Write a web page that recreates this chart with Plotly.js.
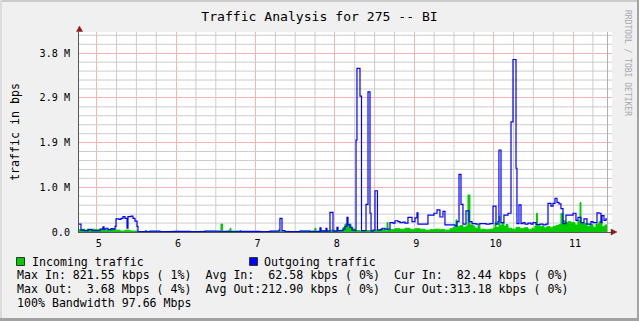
<!DOCTYPE html>
<html>
<head>
<meta charset="utf-8">
<script src="https://cdn.plot.ly/plotly-3.0.1.min.js"></script>
<style>
  html, body { margin: 0; padding: 0; background: #F0F0F0; }
  #wrap { position: relative; width: 639px; height: 321px; overflow: hidden; }
  #chart { position: absolute; left: 0; top: 0; width: 639px; height: 321px; }
  .edge { position: absolute; pointer-events: none; }
</style>
</head>
<body>
<div id="wrap">
  <div id="chart"></div>
  <div class="edge" style="left:0;top:0;width:639px;height:2px;background:#CBCBCB;"></div>
  <div class="edge" style="left:0;top:0;width:2px;height:321px;background:#DCDCDC;"></div>
  <div class="edge" style="left:0;top:318px;width:639px;height:3px;background:#A2A2A2;"></div>
  <div class="edge" style="left:637px;top:0;width:2px;height:321px;background:#A2A2A2;"></div>
</div>
<script>
// ---- data (time in hours, traffic in Mbit/s) ----
const outTime = [4.777,4.802,4.840,4.891,4.941,5.042,5.079,5.092,5.117,5.142,5.180,5.205,5.231,5.243,5.281,5.306,5.331,5.356,5.382,5.394,5.432,5.457,5.482,5.508,5.520,5.671,5.797,5.986,6.175,6.364,6.553,6.805,7.057,7.183,7.296,7.308,7.334,7.371,7.560,7.686,7.812,7.825,7.888,7.900,7.938,7.976,8.026,8.039,8.102,8.127,8.152,8.165,8.190,8.215,8.253,8.266,8.278,8.316,8.335,8.392,8.417,8.442,8.455,8.480,8.505,8.536,8.568,8.593,8.631,8.694,8.732,8.757,8.794,8.820,8.857,8.883,8.920,8.971,9.009,9.034,9.046,9.172,9.210,9.248,9.286,9.323,9.361,9.386,9.512,9.538,9.563,9.588,9.613,9.651,9.689,9.727,9.777,9.827,9.903,9.953,9.991,10.029,10.054,10.066,10.092,10.129,10.180,10.218,10.243,10.281,10.293,10.318,10.344,10.369,10.394,10.432,10.470,10.495,10.533,10.583,10.621,10.658,10.684,10.721,10.747,10.772,10.797,10.822,10.847,10.873,10.910,10.961,10.999,11.036,11.061,11.099,11.137,11.175,11.225,11.250,11.301,11.326,11.351,11.364,11.389,11.414,11.427];
const outValues = [0.17,0.04,0.03,0.05,0.03,0.06,0.11,0.06,0.08,0.05,0.07,0.06,0.12,0.28,0.27,0.29,0.33,0.29,0.08,0.33,0.34,0.29,0.23,0.12,0.01,0.02,0.01,0.015,0.01,0.02,0.01,0.015,0.01,0.02,0.04,0.29,0.03,0.01,0.02,0.01,0.09,0.02,0.08,0.02,0.42,0.02,0.10,0.03,0.06,0.12,0.31,0.15,0.10,0.04,0.03,1.96,3.49,2.90,0.03,0.59,2.99,0.40,0.02,0.04,0.88,0.04,0.05,0.08,0.06,0.20,0.19,0.24,0.22,0.20,0.21,0.19,0.31,0.22,0.30,0.41,0.17,0.36,0.36,0.40,0.47,0.32,0.44,0.15,0.13,0.22,1.23,0.59,0.17,0.45,0.22,0.18,0.17,0.18,0.17,0.18,0.55,0.17,0.22,1.75,0.20,0.36,0.40,2.35,3.68,1.36,0.18,0.58,0.18,0.20,0.17,0.19,0.17,0.20,0.16,0.17,0.15,0.17,0.61,0.55,0.61,0.72,0.63,0.60,0.50,0.18,0.36,0.36,0.40,0.25,0.31,0.20,0.28,0.17,0.22,0.20,0.41,0.40,0.20,0.35,0.25,0.28,0.28];

const inTime = [4.777,4.815,4.853,4.878,4.979,5.042,5.104,5.168,5.231,5.294,5.356,5.419,5.520,5.608,5.633,5.923,6.049,6.301,6.490,6.565,6.584,6.654,6.679,6.691,6.805,6.817,7.183,7.434,7.560,7.737,7.749,7.762,7.812,7.875,7.938,8.001,8.064,8.102,8.127,8.152,8.177,8.203,8.228,8.253,8.316,8.379,8.442,8.505,8.568,8.631,8.656,8.669,8.694,8.757,8.820,8.883,8.946,9.009,9.072,9.135,9.198,9.260,9.323,9.386,9.449,9.487,9.525,9.538,9.575,9.613,9.651,9.676,9.701,9.739,9.764,9.802,9.827,9.890,9.953,9.991,10.016,10.029,10.066,10.079,10.104,10.129,10.155,10.180,10.230,10.281,10.331,10.381,10.432,10.482,10.520,10.539,10.551,10.583,10.633,10.671,10.709,10.747,10.784,10.822,10.847,10.873,10.898,10.935,10.973,11.024,11.061,11.087,11.099,11.137,11.175,11.213,11.250,11.288,11.326,11.364,11.402,11.427];
const inValues = [0.05,0.06,0.03,0.06,0.05,0.06,0.04,0.06,0.04,0.02,0.04,0.02,0.01,0.03,0.01,0.015,0.01,0.015,0.01,0.17,0.02,0.03,0.08,0.02,0.03,0.01,0.015,0.01,0.02,0.04,0.08,0.02,0.03,0.02,0.04,0.02,0.04,0.10,0.17,0.12,0.17,0.10,0.06,0.03,0.02,0.03,0.02,0.04,0.06,0.02,0.20,0.03,0.05,0.07,0.06,0.08,0.05,0.07,0.06,0.04,0.05,0.06,0.05,0.04,0.07,0.10,0.26,0.12,0.14,0.10,0.13,0.79,0.15,0.12,0.08,0.14,0.06,0.05,0.06,0.08,0.20,0.10,0.34,0.14,0.20,0.12,0.16,0.08,0.06,0.10,0.07,0.09,0.05,0.08,0.13,0.40,0.15,0.12,0.09,0.12,0.09,0.12,0.14,0.16,0.40,0.24,0.20,0.22,0.20,0.15,0.24,0.63,0.20,0.18,0.12,0.16,0.10,0.17,0.22,0.12,0.15,0.15];

const xRange = [4.777, 11.49];
const yRange = [0, 4.267];
const xTickStart = 5, xTickStep = 1, xMinorPerMajor = 4;
const yTickStep = 0.95367, yMinorPerMajor = 5;
const yTickVals = [0, 0.95367, 1.90734, 2.86101, 3.81468];
const yTickText = ["0.0", "1.0 M", "1.9 M", "2.9 M", "3.8 M"];

const chartTitle = "Traffic Analysis for 275 -- BI";
const yTitle = "traffic in bps";
const seriesNames = ["Incoming traffic", "Outgoing traffic"];
const seriesColors = ["#00CC00", "#0000FF"];
const statLines = [
  "Max In: 821.55 kbps ( 1%)  Avg In:  62.58 kbps ( 0%)  Cur In:  82.44 kbps ( 0%)",
  "Max Out:  3.68 Mbps ( 4%)  Avg Out:212.90 kbps ( 0%)  Cur Out:313.18 kbps ( 0%)",
  "100% Bandwidth 97.66 Mbps"
];
const watermark = "RRDTOOL / TOBI OETIKER";

// ---- geometry helpers (pixel -> paper) ----
const L = 79, R = 612, T = 32, B = 232;
const px = p => (p - L) / (R - L);
const py = p => (B - p) / (B - T);
const nb = s => s.replace(/ /g, "\u00A0");
const MONO = "DejaVu Sans Mono, monospace";
const MINOR = "#CCCCCC", MAJOR = "#F3B4B4";

const yAlias = {};
yTickVals.forEach((v, i) => { yAlias[v.toFixed(3)] = yTickText[i]; });

// minor grid as a background line trace (segments separated by nulls),
// generated from the axis steps, skipping the major positions
const gridX = [], gridY = [];
const xMinorStep = xTickStep / xMinorPerMajor;
for (let i = Math.ceil((xRange[0] - xTickStart) / xMinorStep); xTickStart + i * xMinorStep <= xRange[1]; i++) {
  if (i % xMinorPerMajor === 0) continue;
  const v = xTickStart + i * xMinorStep;
  gridX.push(v, v, null); gridY.push(yRange[0], yRange[1], null);
}
const yMinorStep = yTickStep / yMinorPerMajor;
for (let j = 1; j * yMinorStep <= yRange[1]; j++) {
  if (j % yMinorPerMajor === 0) continue;
  const v = j * yMinorStep;
  gridX.push(xRange[0], xRange[1], null); gridY.push(v, v, null);
}
const markerX = xRange[0] + px(607.5) * (xRange[1] - xRange[0]);

const traces = [
  { x: gridX, y: gridY, type: "scatter", mode: "lines", connectgaps: false,
    line: { color: MINOR, width: 1 }, hoverinfo: "skip", showlegend: false, cliponaxis: true },
  { x: [markerX, markerX], y: yRange, type: "scatter", mode: "lines",
    line: { color: "#B0B0B0", width: 1 }, hoverinfo: "skip", showlegend: false },
  { x: inTime, y: inValues, type: "scatter", mode: "lines", name: seriesNames[0],
    line: { color: seriesColors[0], width: 1, shape: "hv" },
    fill: "tozeroy", fillcolor: seriesColors[0], hoverinfo: "skip" },
  { x: outTime, y: outValues, type: "scatter", mode: "lines", name: seriesNames[1],
    line: { color: seriesColors[1], width: 1.2, shape: "hv" }, hoverinfo: "skip" }
];

const annotations = [
  { text: nb(seriesNames[0]), xref: "paper", yref: "paper", x: px(30), y: py(261.7),
    xanchor: "left", yanchor: "middle", showarrow: false, font: { family: MONO, size: 11.6, color: "#000" } },
  { text: nb(seriesNames[1]), xref: "paper", yref: "paper", x: px(262), y: py(261.7),
    xanchor: "left", yanchor: "middle", showarrow: false, font: { family: MONO, size: 11.6, color: "#000" } },
  { text: watermark, xref: "paper", yref: "paper", x: px(628), y: py(63),
    xanchor: "center", yanchor: "middle", textangle: 90, showarrow: false,
    font: { family: MONO, size: 8, color: "#A8A8A8" } }
];
const rowY = [275.3, 289, 302.7];
statLines.forEach((s, i) => annotations.push({
  text: nb(s), xref: "paper", yref: "paper", x: px(15), y: py(rowY[i]),
  xanchor: "left", yanchor: "middle", showarrow: false,
  font: { family: MONO, size: 11.6, color: "#000" }
}));

const shapes = [
  { type: "rect", xref: "paper", yref: "paper", x0: px(16.5), x1: px(24.5), y0: py(265.5), y1: py(257.5),
    fillcolor: seriesColors[0], line: { color: "#333", width: 1 } },
  { type: "rect", xref: "paper", yref: "paper", x0: px(249.5), x1: px(257.5), y0: py(265.5), y1: py(257.5),
    fillcolor: seriesColors[1], line: { color: "#333", width: 1 } },
  { type: "path", xref: "paper", yref: "paper",
    path: `M ${px(79.5)},${py(26)} L ${px(76.5)},${py(31.5)} L ${px(82.5)},${py(31.5)} Z`,
    fillcolor: "#8B1A1A", line: { color: "#8B1A1A", width: 0.5 } },
  { type: "path", xref: "paper", yref: "paper",
    path: `M ${px(617)},${py(232)} L ${px(611)},${py(229)} L ${px(611)},${py(235)} Z`,
    fillcolor: "#8B1A1A", line: { color: "#8B1A1A", width: 0.5 } }
];

const layout = {
  width: 639, height: 321,
  margin: { l: L, r: 639 - R, t: T, b: 321 - B, pad: 0 },
  paper_bgcolor: "#F0F0F0", plot_bgcolor: "#FFFFFF",
  showlegend: false, hovermode: false,
  font: { family: MONO, color: "#000" },
  title: { text: chartTitle, x: 0.5, xref: "container", xanchor: "center",
           y: 1 - 16.5 / 321, yref: "container", yanchor: "middle",
           font: { family: MONO, size: 13.1, color: "#000" } },
  xaxis: {
    range: xRange, tickmode: "linear", tick0: xTickStart, dtick: xTickStep,
    showgrid: true, gridcolor: MAJOR, gridwidth: 1, zeroline: false,
    showline: true, linecolor: "#555", linewidth: 1, ticks: "",
    ticklabelshift: 2, ticklabelstandoff: 2,
    tickfont: { family: MONO, size: 10.1, color: "#000" }
  },
  yaxis: {
    range: yRange, tickmode: "linear", tick0: 0, dtick: yTickStep,
    tickformat: ".3f", labelalias: yAlias,
    showgrid: true, gridcolor: MAJOR, gridwidth: 1, zeroline: false,
    showline: true, linecolor: "#555", linewidth: 1, ticks: "",
    ticklabelstandoff: 6,
    tickfont: { family: MONO, size: 10.1, color: "#000" },
    title: { text: yTitle, standoff: 17, font: { family: MONO, size: 11.6, color: "#000" } }
  },
  annotations: annotations,
  shapes: shapes
};

Plotly.newPlot("chart", traces, layout, { staticPlot: true, displayModeBar: false });
</script>
</body>
</html>
